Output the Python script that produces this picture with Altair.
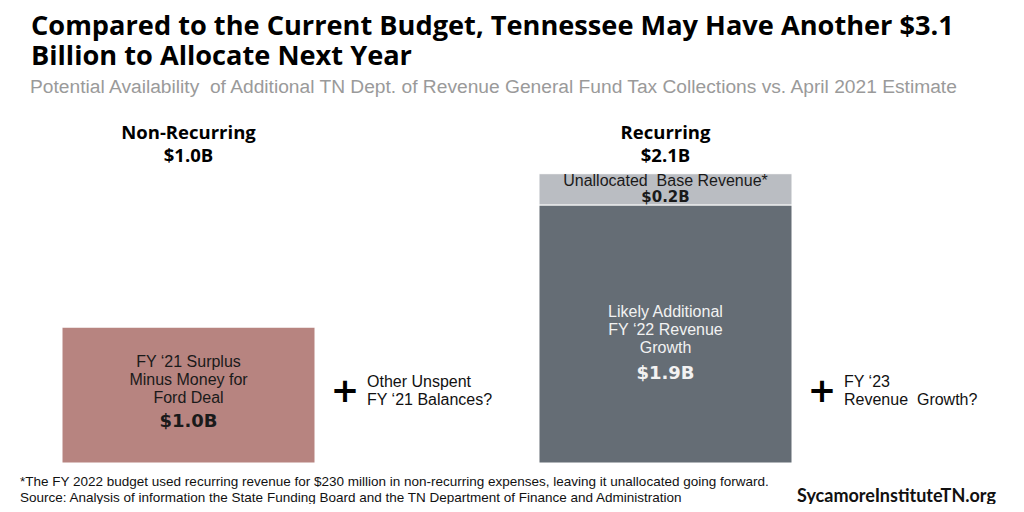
import altair as alt
import pandas as pd

# ---------------- data ----------------
categories = ["Non-Recurring", "Recurring"]
seg_category = ["Non-Recurring", "Recurring", "Recurring"]
seg_names = ["Surplus", "Growth", "Base"]
seg_values = [1.0, 1.9, 0.23]
seg_lines = [
    "FY ‘21 Surplus\nMinus Money for\nFord Deal",
    "Likely Additional\nFY ‘22 Revenue\nGrowth",
    "Unallocated\u00a0 Base Revenue*",
]
seg_colors = ["#B78480", "#656D75", "#BABDC2"]
seg_text_colors = ["#1a1a1a", "#F2F2F2", "#1a1a1a"]
extra_lines = ["Other Unspent\nFY ‘21 Balances?", "FY ‘23\nRevenue\u00a0 Growth?"]

title_lines = "Compared to the Current Budget, Tennessee May Have Another $3.1\nBillion to Allocate Next Year"
subtitle = "Potential Availability\u00a0 of Additional TN Dept. of Revenue General Fund Tax Collections vs. April 2021 Estimate"
footnotes = [
    "*The FY 2022 budget used recurring revenue for $230 million in non-recurring expenses, leaving it unallocated going forward.",
    "Source: Analysis of information the State Funding Board and the TN Department of Finance and Administration",
]
brand = "SycamoreInstituteTN.org"

# ---------------- tables ----------------
rows = []
cum = {c: 0.0 for c in categories}
for c, n, v, lab, col, tc in zip(seg_category, seg_names, seg_values, seg_lines, seg_colors, seg_text_colors):
    s = cum[c]
    e = s + v
    cum[c] = e
    rows.append(dict(category=c, segment=n, start=s, end=e, mid=(s + e) / 2,
                     label=lab, value_label=f"${v:.1f}B", tcolor=tc))
seg_df = pd.DataFrame(rows)

head_df = pd.DataFrame({
    "category": categories,
    "head": [f"{c}\n${cum[c]:.1f}B" for c in categories],
    "extra": extra_lines,
    "plus": ["+", "+"],
})

xscale = alt.Scale(domain=categories, range=[54, 784], paddingInner=0.4696, paddingOuter=0)
yscale = alt.Scale(domain=[0, 3.35], range=[455, 0])

X = alt.X("category:N", scale=xscale, axis=None)
Xr = alt.X("category:N", scale=xscale, axis=None, bandPosition=1)

bars = alt.Chart(seg_df).mark_bar(stroke="white", strokeWidth=1).encode(
    x=X,
    y=alt.Y("start:Q", scale=yscale, axis=None),
    y2="end:Q",
    color=alt.Color("segment:N", scale=alt.Scale(domain=seg_names, range=seg_colors), legend=None),
)


def seg_text(name, dy_label, dy_value, size_label=16, size_value=19, lh=18):
    base = alt.Chart(seg_df).transform_filter(alt.datum.segment == name)
    t1 = base.mark_text(font="Liberation Sans", fontSize=size_label, lineBreak="\n",
                        lineHeight=lh, baseline="top", align="center", dy=dy_label).encode(
        x=X, y=alt.Y("mid:Q", scale=yscale, axis=None), text="label:N",
        color=alt.Color("tcolor:N", scale=None))
    t2 = base.mark_text(font="DejaVu Sans", fontWeight="bold", fontSize=size_value,
                        baseline="middle", align="center", dy=dy_value).encode(
        x=X, y=alt.Y("mid:Q", scale=yscale, axis=None), text="value_label:N",
        color=alt.Color("tcolor:N", scale=None))
    return [t1, t2]


layers = [bars]
layers += seg_text("Surplus", -41, 27, size_value=18)
layers += seg_text("Growth", -30, 40, size_value=18)
layers += seg_text("Base", -16, 8, size_label=16, size_value=15, lh=16)

heads = alt.Chart(head_df).mark_text(font="Open Sans", fontWeight="bold", fontSize=18.5,
                                     lineBreak="\n", lineHeight=23, baseline="top",
                                     align="center", color="#000000").encode(
    x=X, y=alt.value(116), text="head:N")

plus = alt.Chart(head_df).mark_text(font="DejaVu Sans", fontWeight="bold", fontSize=34,
                                    baseline="middle", align="center", dx=30, color="#000000").encode(
    x=Xr, y=alt.value(384), text="plus:N")

extra = alt.Chart(head_df).mark_text(font="Liberation Sans", fontSize=16, lineBreak="\n",
                                     lineHeight=18, baseline="top", align="left", dx=52,
                                     color="#111111").encode(
    x=Xr, y=alt.value(366), text="extra:N")

title = alt.Chart(pd.DataFrame({"t": [title_lines]})).mark_text(
    font="Open Sans", fontWeight="bold", fontSize=27.2, lineBreak="\n", lineHeight=30,
    baseline="top", align="left", color="#000000").encode(
    x=alt.value(23), y=alt.value(6), text="t:N")

sub = alt.Chart(pd.DataFrame({"t": [subtitle]})).mark_text(
    font="Liberation Sans", fontSize=19.2, baseline="top", align="left", color="#9A9A9A").encode(
    x=alt.value(22), y=alt.value(70), text="t:N")

foot = alt.Chart(pd.DataFrame({"t": ["\n".join(footnotes)]})).mark_text(
    font="Liberation Sans", fontSize=13.5, lineBreak="\n", lineHeight=16,
    baseline="top", align="left", color="#111111").encode(
    x=alt.value(12), y=alt.value(467), text="t:N")

brand_t = alt.Chart(pd.DataFrame({"t": [brand]})).mark_text(
    font="Lato", fontWeight="bold", fontSize=18, baseline="middle", align="right", color="#111111").encode(
    x=alt.value(988), y=alt.value(489), text="t:N")

layers += [heads, plus, extra, title, sub, foot, brand_t]

chart = alt.layer(*layers).properties(
    width=1008, height=496,
    autosize=alt.AutoSizeParams(type="none"),
    padding=0,
).configure_view(strokeWidth=0).resolve_scale(color="independent")

chart.save("out.html", embed_options={"renderer": "svg", "actions": False})
